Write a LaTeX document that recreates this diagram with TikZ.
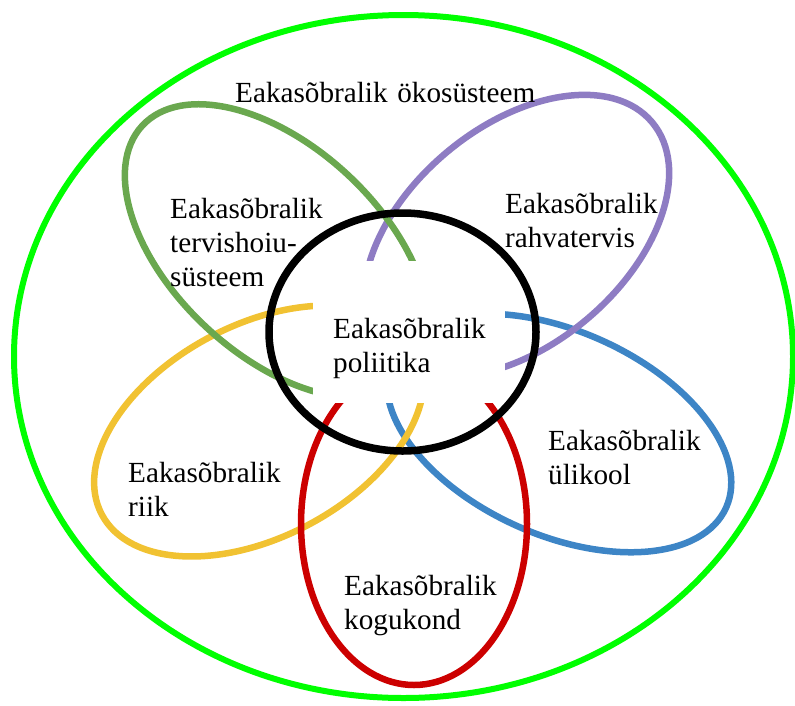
\documentclass[tikz,border=0pt]{standalone}
\usepackage{fontspec}
\setmainfont{Liberation Serif}
\usepackage{tikz}
\definecolor{outergreen}{RGB}{0,255,0}
\definecolor{leafgreen}{RGB}{106,168,79}
\definecolor{leafpurple}{RGB}{142,124,195}
\definecolor{leafblue}{RGB}{61,133,198}
\definecolor{leafred}{RGB}{204,0,0}
\definecolor{leafyellow}{RGB}{241,194,50}

\begin{document}
\begin{tikzpicture}[x=1pt,y=-1pt]
\tikzstyle{petal}=[line width=6.5pt]
\tikzstyle{cover}=[fill=white,draw=none,minimum width=192pt,minimum height=142pt,inner sep=0pt]
\tikzstyle{lbl}=[anchor=base west,inner sep=0pt,align=left,text width=165pt,font=\fontsize{29.2}{34}\selectfont]
\useasboundingbox (0,0) rectangle (795,705);

\draw [outergreen, line width=6pt] (403.5,356.5) ellipse [x radius=389.5, y radius=341.5];
\draw [leafblue, petal, rotate around={-24:(559,433)}] (559,433) ellipse [x radius=183, y radius=102];
\draw [leafyellow, petal, rotate around={28:(259,431)}] (259,431) ellipse [x radius=178, y radius=106];
\draw [leafpurple, petal, rotate around={40:(516.5,236)}] (516.5,236) ellipse [x radius=177, y radius=109];
\draw [leafgreen, petal, rotate around={-43:(277,251)}] (277,251) ellipse [x radius=184, y radius=104];
\draw [leafred, petal] (414,524) ellipse [x radius=113, y radius=161];

\node (polbox) [cover] at (409,332) {};
\draw [black, line width=7.5pt] (402.5,332) ellipse [x radius=133.5, y radius=119];

\node (eco) [lbl, text width=320pt] at (235,102) {Eakasõbralik ökosüsteem};
\node (tervis) [lbl] at (170,218) {Eakasõbralik\\tervishoiu-\\süsteem};
\node (rahva) [lbl] at (505,213) {Eakasõbralik\\rahvatervis};
\node (polit) [lbl] at (333,338) {Eakasõbralik\\poliitika};
\node (yli) [lbl] at (548,450) {Eakasõbralik\\ülikool};
\node (riik) [lbl] at (128,482) {Eakasõbralik\\riik};
\node (kogu) [lbl] at (344,595) {Eakasõbralik\\kogukond};

\end{tikzpicture}
\end{document}
